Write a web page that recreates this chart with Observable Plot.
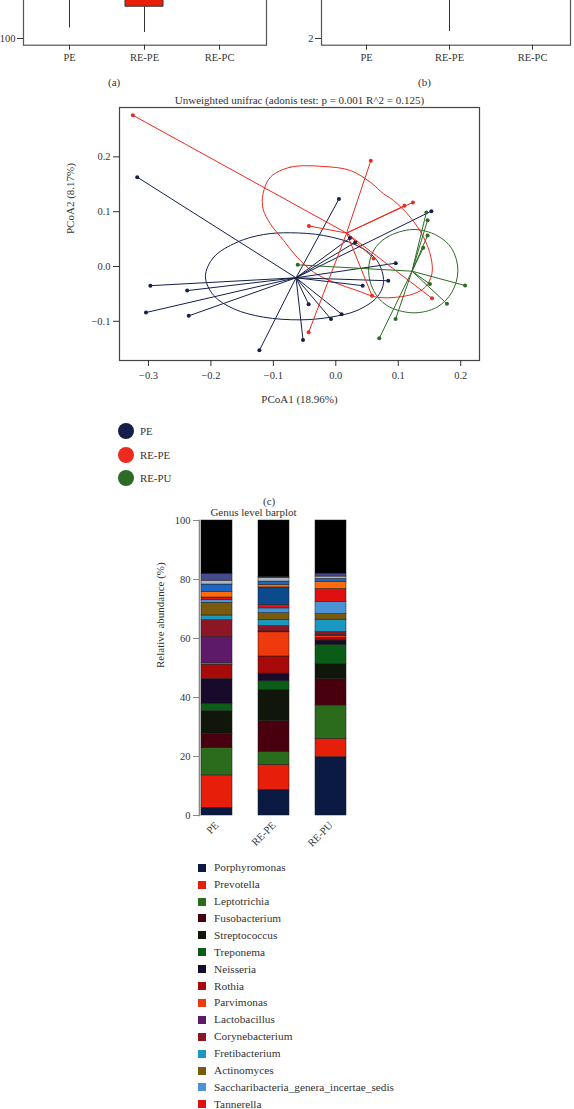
<!DOCTYPE html>
<html><head><meta charset="utf-8">
<script src="https://cdn.jsdelivr.net/npm/d3@7"></script>
<script src="https://cdn.jsdelivr.net/npm/@observablehq/plot@0.6"></script>
<style>
body{margin:0;background:#fff;}
#root{position:relative;width:574px;height:1109px;overflow:hidden;font-family:"Liberation Serif",serif;color:#333;background:#fff;}
.abs{position:absolute;}
.abs svg{display:block;}
.lbl{position:absolute;font-size:11px;white-space:nowrap;line-height:14px;}
</style></head><body><div id="root"></div>
<script>
// ---------------- DATA ----------------
// Panels (a) and (b): only the lower part of the box plots is visible
const boxGroups = ["PE", "RE-PE", "RE-PC"];
const richWhiskerLow = [110.5, 106, null];
const richWhiskerHigh = [165, 131.8, null];
const richBoxLow = [null, 131.8, null];
const richBoxHigh = [null, 190, null];
const richTicks = [100];
const divWhiskerLow = [null, 2.14, null];
const divWhiskerHigh = [null, 3.4, null];
const divTicks = [2];

// Panel (c): PCoA
const pcoaTitle = "Unweighted unifrac (adonis test: p = 0.001 R^2 = 0.125)";
const pcoaXLabel = "PCoA1 (18.96%)";
const pcoaYLabel = "PCoA2 (8.17%)";
const pcoaXTicks = [-0.3, -0.2, -0.1, 0.0, 0.1, 0.2];
const pcoaYTicks = [-0.1, 0.0, 0.1, 0.2];
const groups = ["PE", "RE-PE", "RE-PU"];
const groupColors = ["#14204a", "#ee2a1e", "#2c6b26"];
const centroidX = [-0.0637, 0.0173, 0.122];
const centroidY = [-0.0206, 0.061, -0.0086];
const peX = [-0.318, -0.297, -0.238, -0.304, -0.2355, -0.1224, 0.005, 0.153, 0.0227, 0.031, 0.096, 0.084, 0.043, -0.0435, 0.0093, -0.0077, -0.0525];
const peY = [0.163, -0.035, -0.044, -0.084, -0.090, -0.153, 0.123, 0.101, 0.052, 0.044, 0.006, -0.026, -0.035, -0.069, -0.087, -0.096, -0.134];
const repeX = [-0.325, 0.056, 0.110, 0.1235, -0.043, 0.0605, 0.058, 0.154, -0.0435];
const repeY = [0.276, 0.193, 0.111, 0.117, 0.074, 0.0146, -0.0535, -0.058, -0.120];
const repuX = [0.145, 0.147, 0.147, 0.140, 0.1507, 0.207, 0.178, 0.0957, 0.0696, -0.061];
const repuY = [0.0985, 0.0845, 0.0566, 0.034, -0.032, -0.0347, -0.068, -0.096, -0.131, 0.003];
const peEllipse = [[-0.2088,-0.0182],[-0.1955,0.0170],[-0.1581,0.0443],[-0.1155,0.0584],[-0.0728,0.0615],[-0.0195,0.0566],[0.0339,0.0383],[0.0659,0.0109],[0.0765,-0.0286],[0.0659,-0.0560],[0.0339,-0.0803],[-0.0088,-0.0925],[-0.0568,-0.0973],[-0.1155,-0.0925],[-0.1635,-0.0772],[-0.1955,-0.0529]];
const repeEllipse = [[-0.1048,0.1630],[-0.0728,0.1812],[-0.0195,0.1825],[0.0232,0.1752],[0.0552,0.1538],[0.0765,0.1327],[0.0925,0.1204],[0.1192,0.0900],[0.1405,0.0535],[0.1523,0.0170],[0.1539,-0.0133],[0.1432,-0.0378],[0.1245,-0.0498],[0.0979,-0.0560],[0.0659,-0.0560],[0.0339,-0.0438],[-0.0035,-0.0286],[-0.0355,-0.0104],[-0.0621,0.0170],[-0.0835,0.0474],[-0.1048,0.0779],[-0.1165,0.1053],[-0.1165,0.1327]];
const repuEllipse = [[0.0525,-0.0073],[0.0605,0.0292],[0.0819,0.0535],[0.1235,0.0675],[0.1619,0.0566],[0.1859,0.0323],[0.1955,-0.0073],[0.1859,-0.0469],[0.1619,-0.0743],[0.1235,-0.0845],[0.0819,-0.0712],[0.0605,-0.0438]];

// Panel (d): genus level barplot
const barTitle = "Genus level barplot";
const barYLabel = "Relative abundance (%)";
const barYTicks = [0, 20, 40, 60, 80, 100];
const samples = ["PE", "RE-PE", "RE-PU"];
const genera = ["Porphyromonas","Prevotella","Leptotrichia","Fusobacterium","Streptococcus","Treponema","Neisseria","Rothia","Parvimonas","Lactobacillus","Corynebacterium","Fretibacterium","Actinomyces","Saccharibacteria_genera_incertae_sedis","Tannerella","Genus_16","Genus_17","Genus_18","Genus_19","Genus_20","Others"];
const genusColors = ["#0b1a42","#e61e0a","#2b6b1c","#48000e","#10170a","#0b5c16","#170a2a","#a80a0a","#ee3a0c","#5c1a68","#8c1626","#1b98c0","#7a5a0c","#4a94d6","#e01010","#0c4a8e","#ff6a0a","#1f66c2","#a9b6c6","#464b8e","#000000"];
const abundancePE   = [2.6, 11.0, 9.2, 4.9, 7.7, 2.5, 8.4, 4.8, 0.5, 8.9, 5.7, 1.6, 4.3, 1.0, 0.8, 0.0, 1.8, 2.6, 1.3, 2.3, 18.1];
const abundanceREPE = [8.7, 8.5, 4.3, 10.5, 10.6, 2.9, 2.6, 5.8, 8.2, 0.3, 1.8, 2.1, 2.3, 1.6, 1.1, 6.0, 0.9, 1.1, 1.2, 0.3, 19.2];
const abundanceREPU = [19.8, 6.2, 11.3, 9.0, 5.1, 6.5, 1.4, 0.9, 0.6, 0.4, 1.0, 4.2, 1.9, 4.1, 4.4, 0.0, 2.3, 1.1, 0.8, 1.0, 18.0];
const legendCount = 15; // rows visible in the figure

// ---------------- RENDER ----------------
const root = document.getElementById("root");
const ff = "'Liberation Serif', serif";
const baseStyle = {fontFamily: ff, fontSize: "10.5px", color: "#333", background: "transparent"};
function place(node, left, top) {
  const d = document.createElement("div");
  d.className = "abs"; d.style.left = left + "px"; d.style.top = top + "px";
  d.appendChild(node); root.appendChild(d); return d;
}
function label(text, x, y, extra) {
  const d = document.createElement("div");
  d.className = "lbl"; d.textContent = text;
  d.style.left = x + "px"; d.style.top = y + "px";
  if (extra) Object.assign(d.style, extra);
  root.appendChild(d); return d;
}

// (a)
const richWhiskers = boxGroups.map((g, i) => ({g, lo: richWhiskerLow[i], hi: richWhiskerHigh[i]})).filter(d => d.lo != null);
const richBoxes = boxGroups.map((g, i) => ({g, lo: richBoxLow[i], hi: richBoxHigh[i]})).filter(d => d.lo != null);
const plotA = Plot.plot({
  width: 287, height: 90, marginTop: 0, marginBottom: 25.3, marginLeft: 23, marginRight: 21,
  style: baseStyle,
  x: {domain: boxGroups, paddingInner: 0.493, paddingOuter: 0.35},
  y: {domain: [93.3, 158]},
  marks: [
    Plot.ruleX(richWhiskers, {x: "g", y1: "lo", y2: "hi", stroke: "#333", strokeWidth: 1, clip: true}),
    Plot.barY(richBoxes, {x: "g", y1: "lo", y2: "hi", fill: "#e8200a", stroke: "#333", strokeWidth: 1, clip: true}),
    Plot.frame({stroke: "#555", strokeWidth: 1.2}),
    Plot.axisX({tickSize: 5, tickPadding: 3, label: null}),
    Plot.axisY({ticks: richTicks, tickFormat: d3.format("d"), tickSize: 6, tickPadding: 2, label: null})
  ]
});
place(plotA, 0, -20);

// (b)
const divWhiskers = boxGroups.map((g, i) => ({g, lo: divWhiskerLow[i], hi: divWhiskerHigh[i]})).filter(d => d.lo != null);
const plotB = Plot.plot({
  width: 274, height: 90, marginTop: 0, marginBottom: 25.3, marginLeft: 21, marginRight: 4,
  style: baseStyle,
  x: {domain: boxGroups, paddingInner: 0.5, paddingOuter: 0.328, align: 0.54},
  y: {domain: [1.866, 3.16]},
  marks: [
    Plot.ruleX(divWhiskers, {x: "g", y1: "lo", y2: "hi", stroke: "#333", strokeWidth: 1, clip: true}),
    Plot.frame({stroke: "#555", strokeWidth: 1.2}),
    Plot.axisX({tickSize: 5, tickPadding: 3, label: null}),
    Plot.axisY({ticks: divTicks, tickFormat: d3.format("d"), tickSize: 6, tickPadding: 2, label: null})
  ]
});
place(plotB, 300, -20);
label("(a)", 108, 75);
label("(b)", 418, 75);

// (c) PCoA
const pts = [];
[[peX, peY], [repeX, repeY], [repuX, repuY]].forEach(([xs, ys], gi) =>
  xs.forEach((x, i) => pts.push({g: groups[gi], x, y: ys[i], cx: centroidX[gi], cy: centroidY[gi]})));
const ell = [];
[peEllipse, repeEllipse, repuEllipse].forEach((arr, gi) => arr.forEach(([x, y]) => ell.push({g: groups[gi], x, y})));
const plotC = Plot.plot({
  width: 574, height: 330, marginTop: 22, marginBottom: 55, marginLeft: 119, marginRight: 95,
  style: baseStyle,
  x: {domain: [-0.3464, 0.2301]},
  y: {domain: [-0.1715, 0.2901]},
  color: {domain: groups, range: groupColors},
  marks: [
    Plot.line(ell, {x: "x", y: "y", z: "g", stroke: "g", curve: "catmull-rom-closed", strokeWidth: 1}),
    Plot.link(pts, {x1: "cx", y1: "cy", x2: "x", y2: "y", stroke: "g", strokeWidth: 1}),
    Plot.dot(pts, {x: "x", y: "y", fill: "g", r: 2}),
    Plot.frame({stroke: "#444", strokeWidth: 1.2}),
    Plot.axisX({ticks: pcoaXTicks, tickFormat: d3.format(".1f"), tickSize: 6, tickPadding: 5, label: null}),
    Plot.axisY({ticks: pcoaYTicks, tickFormat: d3.format(".1f"), tickSize: 6, tickPadding: 3, label: null}),
    Plot.text([pcoaTitle], {text: d => d, frameAnchor: "top", dy: -11, fontSize: 11}),
    Plot.text([pcoaXLabel], {text: d => d, frameAnchor: "bottom", dy: 42, fontSize: 11}),
    Plot.text([pcoaYLabel], {text: d => d, frameAnchor: "left", dx: -49, rotate: -90, fontSize: 11})
  ]
});
place(plotC, 0, 85);

// legend (c)
groups.forEach((g, i) => {
  const cy = [431, 454.5, 477.6][i];
  const c = document.createElement("div");
  c.className = "abs";
  Object.assign(c.style, {left: "118px", top: (cy - 8) + "px", width: "16px", height: "16px", borderRadius: "50%", background: groupColors[i]});
  root.appendChild(c);
  label(g, 140, cy - 7, {fontSize: "10.8px"});
});
label("(c)", 263, 494);

// (d) stacked bars
const abund = [abundancePE, abundanceREPE, abundanceREPU];
const barData = [];
samples.forEach((s, si) => genera.forEach((g, gi) => {
  if (abund[si][gi] > 0) barData.push({sample: s, genus: g, value: abund[si][gi]});
}));
const plotD = Plot.plot({
  width: 574, height: 360, marginTop: 20, marginBottom: 45, marginLeft: 199, marginRight: 225,
  style: baseStyle,
  x: {domain: samples, paddingInner: 0.456, paddingOuter: 0.0386},
  y: {domain: [0, 100]},
  color: {domain: genera, range: genusColors},
  marks: [
    Plot.barY(barData, {x: "sample", y: "value", fill: "genus", order: genera, stroke: "#1a1a1a", strokeWidth: 0.5}),
    Plot.frame({anchor: "left", stroke: "#888", strokeWidth: 1.6}),
    Plot.axisY({ticks: barYTicks, tickSize: 6, tickPadding: 3, label: null, stroke: "#888"}),
    Plot.axisX({tickRotate: -45, tickSize: 0, tickPadding: 8, label: null}),
    Plot.text([barTitle], {text: d => d, frameAnchor: "top-left", dx: 54, dy: -12, textAnchor: "middle", fontSize: 11}),
    Plot.text([barYLabel], {text: d => d, frameAnchor: "left", dx: -39, rotate: -90, fontSize: 11})
  ]
});
place(plotD, 0, 500);

// legend (d)
for (let i = 0; i < Math.min(legendCount, genera.length); i++) {
  const yc = 867.7 + i * 16.9;
  const sw = document.createElement("div");
  sw.className = "abs";
  Object.assign(sw.style, {left: "198px", top: (yc - 4) + "px", width: "8px", height: "8px", background: genusColors[i]});
  root.appendChild(sw);
  label(genera[i], 214, yc - 7.5, {fontSize: "11.3px"});
}
</script></body></html>
